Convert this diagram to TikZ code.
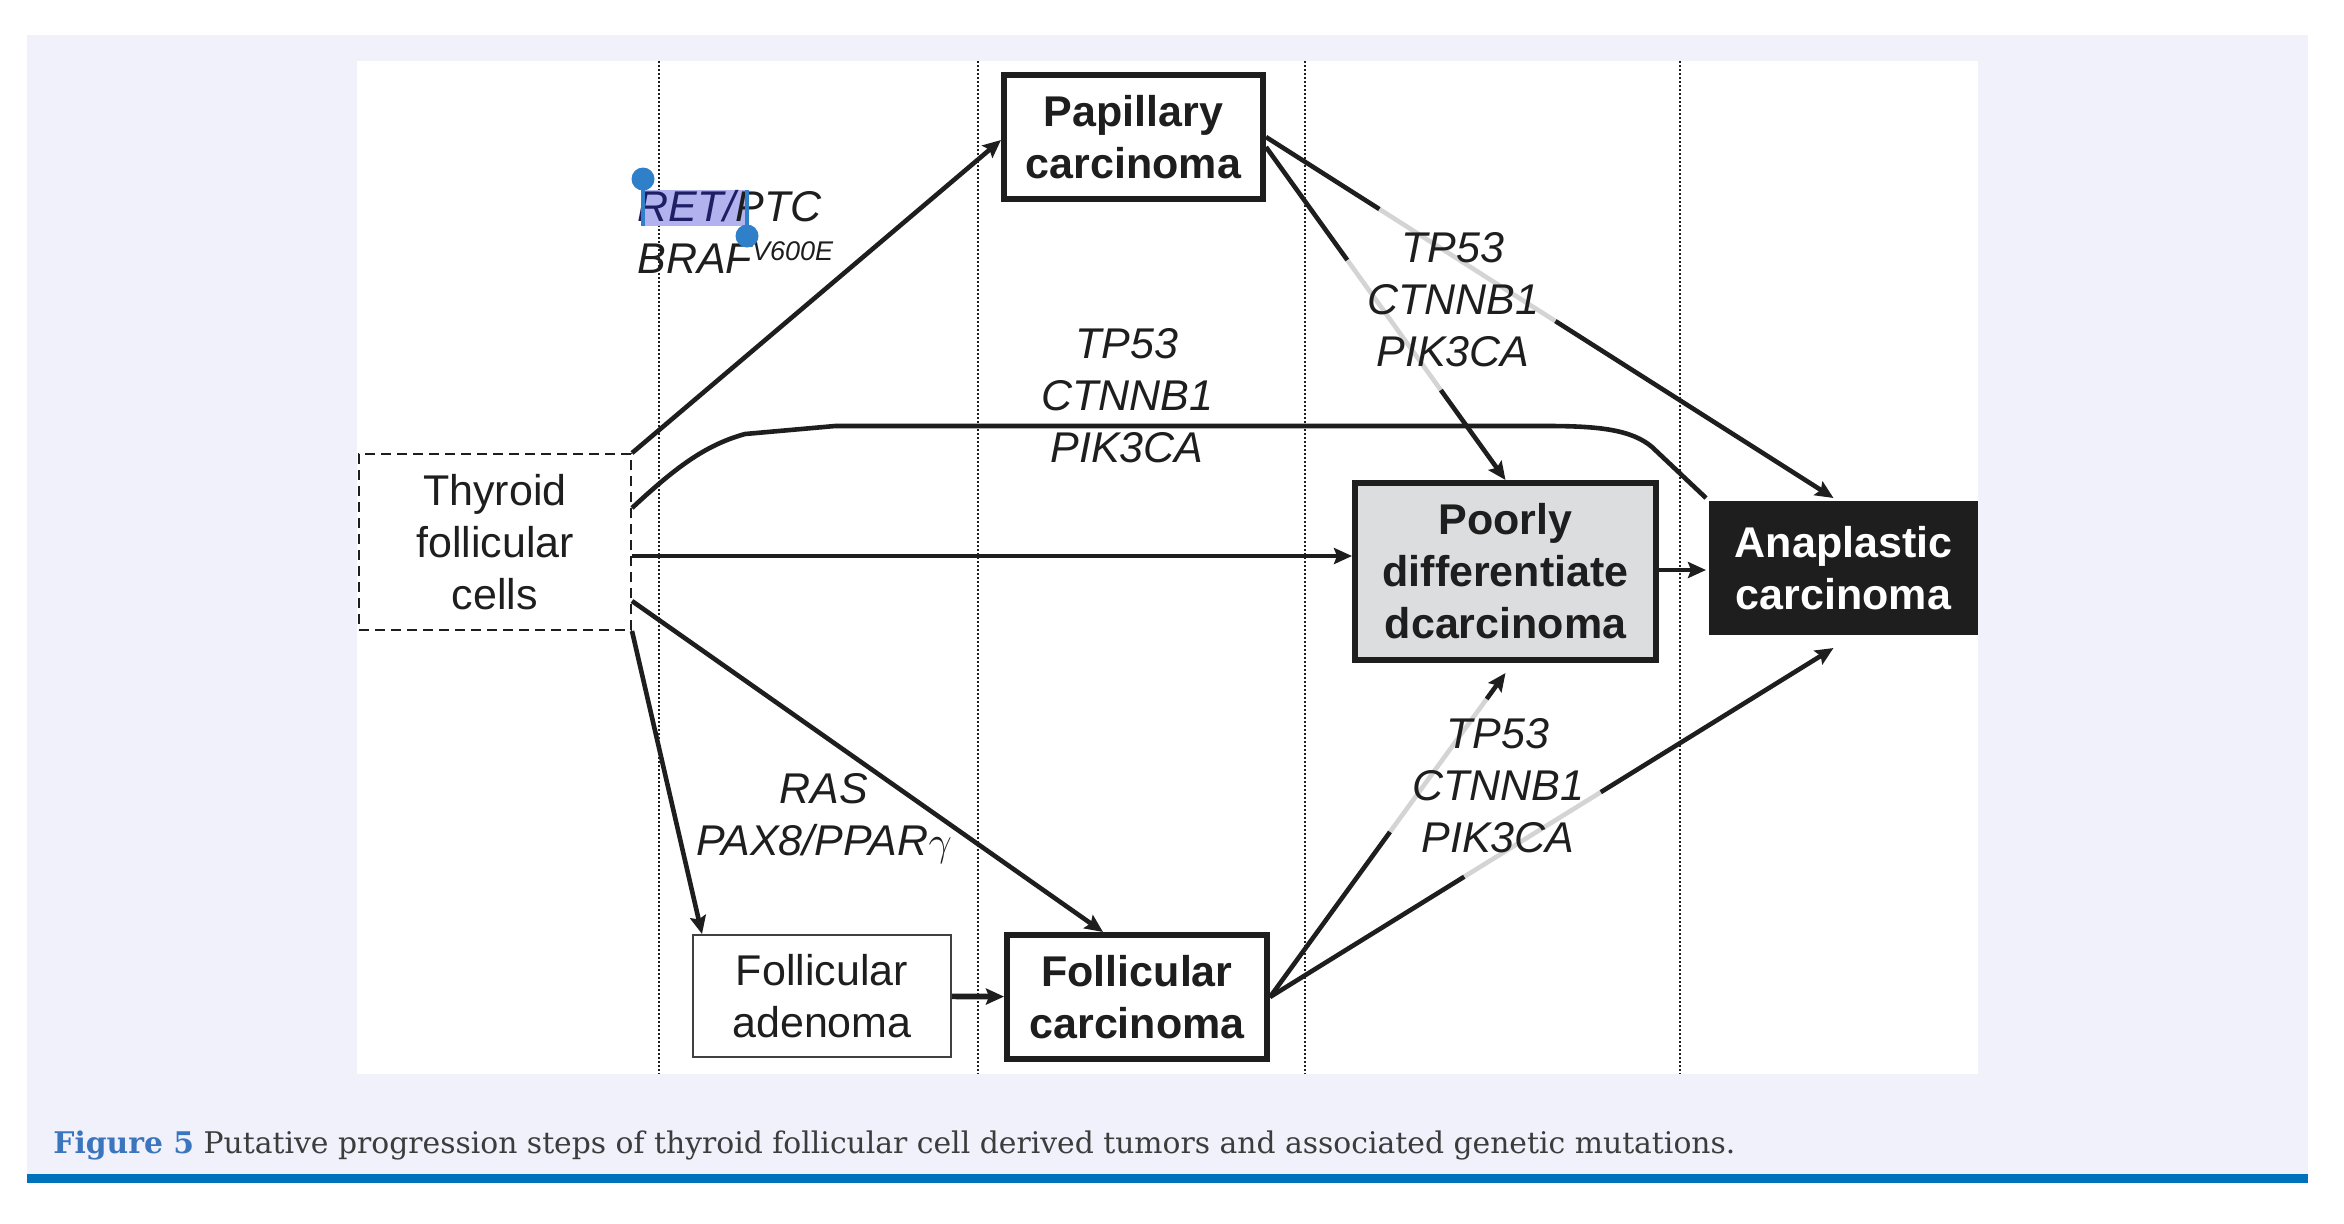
\documentclass[tikz,border=0pt]{standalone}
\usepackage{fontspec}
\setmainfont{Liberation Sans}
\newfontfamily\capfont{DejaVu Serif}
\usetikzlibrary{calc}
\usetikzlibrary{arrows.meta}
\usepackage{xcolor}

\definecolor{ink}{RGB}{30,30,30}
\definecolor{pagebg}{RGB}{240,241,250}
\definecolor{barblue}{RGB}{0,114,188}
\definecolor{figblue}{RGB}{58,117,190}
\definecolor{captext}{RGB}{60,60,60}
\definecolor{boxgrey}{RGB}{220,221,223}
\definecolor{segrey}{RGB}{212,212,212}
\definecolor{selfill}{RGB}{178,178,238}
\definecolor{selnavy}{RGB}{30,30,100}
\definecolor{handle}{RGB}{47,128,200}

\newcommand{\boxfont}{\fontsize{21.5}{26}\selectfont}

\tikzset{
  stage/.style={draw=ink, line width=3pt, align=center, font=\boxfont\bfseries, text=ink, inner sep=0pt},
  cellbox/.style={draw=ink, line width=1pt, dash pattern=on 5pt off 3pt, align=center, font=\boxfont, text=ink, inner sep=0pt},
  gene/.style={align=center, font=\boxfont\itshape, text=ink, inner sep=0pt},
  link/.style={draw=ink, line width=2.3pt},
  greyseg/.style={draw=segrey, line width=2.3pt},
}

\begin{document}
\begin{tikzpicture}[x=0.5pt, y=-0.5pt, >={Stealth[length=9pt,width=8pt,inset=1.5pt]}]
\useasboundingbox (0,0) rectangle (2344,1223);
\fill[pagebg] (27,35) rectangle (2308,1174);
\fill[barblue] (27,1174) rectangle (2308,1183);
\fill[white] (357,61) rectangle (1978,1074);
\foreach \x in {659,978,1305,1680} {
\draw[ink, line width=1pt, dash pattern=on 1pt off 1pt] (\x,61)--(\x,1074);
}

% stages
\node[cellbox, minimum width=136pt, minimum height=88pt] (thyroid) at (495,542) {Thyroid\\follicular\\cells};
\node[stage, minimum width=129.5pt, minimum height=62pt] (papillary) at (1133.5,137) {Papillary\\carcinoma};
\node[stage, fill=boxgrey, minimum width=150.5pt, minimum height=88.5pt] (poorly) at (1505.5,571.5) {Poorly\\differentiate\\dcarcinoma};
\node[stage, draw=none, fill=ink, text=white, minimum width=134.5pt, minimum height=67pt] (anaplastic) at (1843.5,568) {Anaplastic\\carcinoma};
\node[stage, font=\boxfont, line width=1pt, draw=ink!85, minimum width=129pt, minimum height=61pt] (adenoma) at (822,996) {Follicular\\adenoma};
\node[stage, minimum width=130pt, minimum height=62pt] (follicular) at (1137,997) {Follicular\\carcinoma};

% connectors
\draw[link, ->] (thyroid.north east) -- ([yshift=-1.5pt]papillary.west);
\draw[link] ([yshift=17pt]thyroid.east) .. controls (675,468) and (705,445) .. (745,434) -- (835,426) -- (1548,426) .. controls (1600,426) and (1632,430) .. (1652,447) -- (anaplastic.north west);
\draw[link, ->] ([yshift=-7pt]thyroid.east) -- ([yshift=-7pt]thyroid.east -| poorly.west);
\draw[link, ->] ([yshift=-29.5pt]thyroid.east) -- ([xshift=-17pt]follicular.north);
\draw[link, ->] (thyroid.south east) -- ([xshift=5pt]adenoma.north west);
\draw[link, line width=2.8pt, ->] (adenoma) -- (follicular);
\draw[link, ->] ([yshift=-1pt]anaplastic.west -| poorly.east) -- ([yshift=-1pt]anaplastic.west);

\coordinate (pa-s) at (papillary.east);
\coordinate (pa-e) at ([xshift=-5pt]anaplastic.north);
\coordinate (pp-s) at ([yshift=-5pt]papillary.east);
\coordinate (pp-e) at (poorly.north);
\coordinate (fp-s) at (follicular.east);
\coordinate (fp-e) at ([yshift=-5pt]poorly.south);
\coordinate (fa-s) at (follicular.east);
\coordinate (fa-e) at ([shift={(-5pt,-5pt)}]anaplastic.south);
\foreach \s/\e/\ta/\tb in {pa-s/pa-e/0.20/0.51, pp-s/pp-e/0.34/0.73, fp-s/fp-e/0.51/0.92, fa-s/fa-e/0.345/0.587} {
\draw[link] (\s) -- ($(\s)!\ta!(\e)$);
\draw[greyseg] ($(\s)!\ta!(\e)$) -- ($(\s)!\tb!(\e)$);
\draw[link, ->] ($(\s)!\tb!(\e)$) -- (\e);
}

% mutations
\fill[selfill] (641,190) rectangle (747,226);
\node[gene, align=left, anchor=west] (mutpap) at (637,232) {\textcolor{selnavy}{RET/}PTC\\BRAF\raisebox{6.5pt}{\fontsize{13.5}{16}\selectfont V600E}};
\draw[handle, line width=2pt] (643,179) -- (643,226);
\fill[handle] (643,179) circle[radius=5.75pt];
\draw[handle, line width=2pt] (747,190) -- (747,236);
\fill[handle] (747,236) circle[radius=5.75pt];
\node[gene] (mutmid) at (1127,396) {TP53\\CTNNB1\\PIK3CA};
\node[gene] (mutpd) at (1453,300) {TP53\\CTNNB1\\PIK3CA};
\node[gene] (mutfc) at (1498,786) {TP53\\CTNNB1\\PIK3CA};
\node[gene] (mutfol) at (824,818) {RAS\\PAX8/PPAR$\gamma$};

% caption
\node[anchor=base west, inner sep=0pt, text=captext, font=\capfont\fontsize{14.9}{17}\selectfont] (caption) at (53,1153) {\textcolor{figblue}{\bfseries Figure 5} Putative progression steps of thyroid follicular cell derived tumors and associated genetic mutations.};
\end{tikzpicture}
\end{document}
